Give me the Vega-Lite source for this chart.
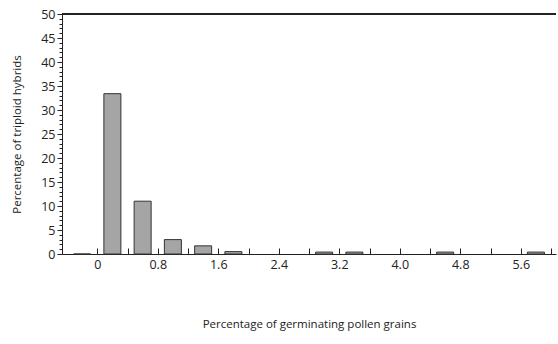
{
  "$schema": "https://vega.github.io/schema/vega-lite/v6.json",
  "width": 494,
  "height": 240,
  "autosize": "none",
  "padding": {"left": 62, "top": 14, "right": 2, "bottom": 90},
  "background": "white",
  "config": {
    "view": {"stroke": null},
    "font": "Open Sans",
    "axis": {"grid": false, "domainColor": "#222", "tickColor": "#222", "labelColor": "#222", "titleColor": "#222", "labelFont": "Open Sans", "titleFont": "Open Sans", "titleFontWeight": "normal"}
  },
  "data": {
    "values": [
      {"bin": "-0.4-0", "mid": -0.2, "pct": 0},
      {"bin": "0-0.4", "mid": 0.2, "pct": 33.4},
      {"bin": "0.4-0.8", "mid": 0.6, "pct": 11.0},
      {"bin": "0.8-1.2", "mid": 1.0, "pct": 3.0},
      {"bin": "1.2-1.6", "mid": 1.4, "pct": 1.7},
      {"bin": "1.6-2.0", "mid": 1.8, "pct": 0.5},
      {"bin": "2.8-3.2", "mid": 3.0, "pct": 0.4},
      {"bin": "3.2-3.6", "mid": 3.4, "pct": 0.4},
      {"bin": "4.4-4.8", "mid": 4.6, "pct": 0.4},
      {"bin": "5.6-6.0", "mid": 5.8, "pct": 0.4}
    ]
  },
  "resolve": {"axis": {"y": "independent"}},
  "layer": [
    {
      "mark": {"type": "bar", "width": 17, "fill": "#a5a5a5", "stroke": "#333", "strokeWidth": 1},
      "encoding": {
        "x": {
          "field": "mid", "type": "quantitative",
          "scale": {"domain": [-0.4, 6.0], "nice": false, "zero": false},
          "axis": {
            "orient": "bottom",
            "values": [0, 0.4, 0.8, 1.2, 1.6, 2.0, 2.4, 2.8, 3.2, 3.6, 4.0, 4.4, 4.8, 5.2, 5.6, 6.0],
            "labelExpr": "round(datum.value*10) % 8 == 0 && datum.value < 6 ? (datum.value == 0 ? '0' : format(datum.value, '.1f')) : ''",
            "tickSize": -6,
            "labelPadding": 10,
            "labelFontSize": 12.5,
            "title": "Percentage of germinating pollen grains",
            "titleFontSize": 11.5,
            "titlePadding": 48
          }
        },
        "y": {
          "field": "pct", "type": "quantitative",
          "scale": {"domain": [0, 50], "nice": false},
          "axis": {
            "orient": "left",
            "values": [0, 5, 10, 15, 20, 25, 30, 35, 40, 45, 50],
            "tickSize": 5,
            "labelPadding": 2,
            "labelFontSize": 12.5,
            "title": "Percentage of triploid hybrids",
            "titleFontSize": 11.5,
            "titlePadding": 18
          }
        }
      }
    },
    {
      "mark": {"type": "rule", "color": "#222", "strokeWidth": 1},
      "encoding": {
        "y": {
          "datum": 50, "type": "quantitative",
          "scale": {"domain": [0, 50], "nice": false},
          "axis": {
            "orient": "left",
            "values": [0,1,2,3,4,5,6,7,8,9,10,11,12,13,14,15,16,17,18,19,20,21,22,23,24,25,26,27,28,29,30,31,32,33,34,35,36,37,38,39,40,41,42,43,44,45,46,47,48,49,50],
            "tickSize": 3,
            "labels": false,
            "domain": false,
            "title": null
          }
        }
      }
    }
  ]
}
